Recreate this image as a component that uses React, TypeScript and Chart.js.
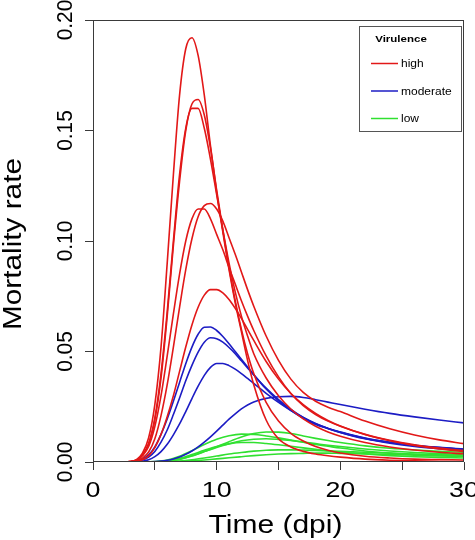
import React, { useEffect, useRef } from "react";
import { Chart, registerables } from "chart.js";

Chart.register(...registerables);

// time grids (days post infection)
const T_FAST = [1, 2, 3, 3.5, 4, 4.5, 5, 5.5, 6, 6.5, 7, 7.5, 8, 8.5, 9, 9.5, 10, 10.5, 11, 11.5, 12, 12.5, 13, 14, 15, 16, 17, 18, 19, 20, 22, 24, 26, 28, 30];
const T_SLOW = [1, 3, 4, 5, 6, 7, 8, 9, 10, 11, 12, 13, 14, 15, 16, 17, 18, 19, 20, 22, 24, 26, 28, 30];

// high virulence
const HIGH_1 = [0, 0, 0.0002, 0.001, 0.004, 0.011, 0.026, 0.052, 0.09, 0.13, 0.166, 0.187, 0.192, 0.184, 0.166, 0.143, 0.122, 0.104, 0.087, 0.072, 0.059, 0.046, 0.035, 0.019, 0.0105, 0.0068, 0.0048, 0.0036, 0.0028, 0.0022, 0.0013, 0.0008, 0.0005, 0.0003, 0.0002];
const HIGH_2 = [0, 0, 0.0002, 0.0008, 0.003, 0.008, 0.019, 0.038, 0.066, 0.098, 0.127, 0.15, 0.162, 0.164, 0.157, 0.142, 0.123, 0.105, 0.088, 0.073, 0.06, 0.049, 0.04, 0.027, 0.0185, 0.013, 0.0095, 0.007, 0.0053, 0.0041, 0.0026, 0.0018, 0.0013, 0.0011, 0.0009];
const HIGH_3 = [0, 0, 0.0002, 0.0009, 0.0033, 0.0085, 0.02, 0.04, 0.068, 0.1, 0.13, 0.151, 0.16, 0.16, 0.151, 0.137, 0.121, 0.105, 0.09, 0.077, 0.066, 0.057, 0.049, 0.038, 0.03, 0.024, 0.0195, 0.0162, 0.0136, 0.0117, 0.0088, 0.0068, 0.0054, 0.0044, 0.0037];
const HIGH_4 = [0, 0, 0.0001, 0.0005, 0.0018, 0.0045, 0.0105, 0.021, 0.035, 0.052, 0.07, 0.087, 0.101, 0.111, 0.116, 0.117, 0.1145, 0.109, 0.1015, 0.094, 0.086, 0.078, 0.0705, 0.057, 0.046, 0.0375, 0.0315, 0.0275, 0.0248, 0.0228, 0.0185, 0.015, 0.0122, 0.01, 0.0083];
const HIGH_5 = [0, 0, 0.0002, 0.0008, 0.0028, 0.007, 0.016, 0.03, 0.048, 0.067, 0.085, 0.1, 0.11, 0.1145, 0.1145, 0.11, 0.103, 0.096, 0.088, 0.0805, 0.073, 0.066, 0.0595, 0.048, 0.0385, 0.031, 0.0255, 0.0215, 0.0185, 0.0162, 0.0125, 0.0098, 0.0078, 0.0063, 0.0052];
const HIGH_6 = [0, 0, 0.0001, 0.0003, 0.001, 0.0028, 0.0065, 0.0125, 0.0205, 0.03, 0.041, 0.052, 0.062, 0.07, 0.0755, 0.078, 0.078, 0.0765, 0.0735, 0.0695, 0.065, 0.06, 0.055, 0.0455, 0.0375, 0.031, 0.026, 0.022, 0.0188, 0.0163, 0.0124, 0.0096, 0.0075, 0.0059, 0.0047];

// moderate virulence
const MOD_1 = [0, 0, 0.0001, 0.0004, 0.0013, 0.0032, 0.0068, 0.0125, 0.0195, 0.0275, 0.036, 0.0445, 0.052, 0.0578, 0.061, 0.0611, 0.0595, 0.0568, 0.0535, 0.05, 0.0465, 0.043, 0.0395, 0.033, 0.0277, 0.0234, 0.0198, 0.017, 0.0152, 0.0136, 0.0108, 0.0089, 0.0075, 0.0065, 0.0058];
const MOD_2 = [0, 0, 0.0001, 0.0003, 0.0009, 0.0022, 0.0048, 0.009, 0.0145, 0.0215, 0.029, 0.0368, 0.0437, 0.0497, 0.0542, 0.0562, 0.0558, 0.0542, 0.0518, 0.049, 0.0458, 0.0426, 0.0394, 0.0334, 0.0282, 0.0238, 0.0202, 0.0173, 0.0152, 0.0134, 0.0107, 0.0089, 0.0076, 0.0066, 0.0059];
const MOD_3 = [0, 0, 0, 0.0001, 0.0004, 0.001, 0.0024, 0.0047, 0.008, 0.0123, 0.0172, 0.0228, 0.0287, 0.0343, 0.0392, 0.0428, 0.0446, 0.0446, 0.0436, 0.042, 0.04, 0.0378, 0.0356, 0.0311, 0.027, 0.0233, 0.0201, 0.0174, 0.0152, 0.0134, 0.0105, 0.0085, 0.007, 0.006, 0.0052];
const MOD_4 = [0, 0, 0, 0, 0, 0.0001, 0.0002, 0.0004, 0.0008, 0.0014, 0.0023, 0.0035, 0.005, 0.0068, 0.009, 0.0114, 0.014, 0.0167, 0.0194, 0.0218, 0.024, 0.0258, 0.0272, 0.0288, 0.0295, 0.0297, 0.0292, 0.0282, 0.0271, 0.026, 0.0239, 0.022, 0.0204, 0.019, 0.0177];

// low virulence
const LOW_1 = [0, 0, 0, 0.0001, 0.0004, 0.0012, 0.0027, 0.0047, 0.0069, 0.0092, 0.0113, 0.0129, 0.0136, 0.0135, 0.0129, 0.0118, 0.0107, 0.0097, 0.0088, 0.0073, 0.0062, 0.0054, 0.0048, 0.0044];
const LOW_2 = [0, 0, 0, 0.0002, 0.0009, 0.0026, 0.0051, 0.0079, 0.0103, 0.0119, 0.0126, 0.0125, 0.0118, 0.0109, 0.0099, 0.0089, 0.0079, 0.0071, 0.0063, 0.005, 0.0041, 0.0034, 0.0029, 0.0025];
const LOW_3 = [0, 0, 0, 0.0001, 0.0004, 0.0013, 0.0028, 0.0047, 0.0066, 0.0083, 0.0096, 0.0103, 0.0105, 0.0102, 0.0097, 0.009, 0.0083, 0.0076, 0.007, 0.0059, 0.005, 0.0043, 0.0038, 0.0034];
const LOW_4 = [0, 0, 0, 0.0001, 0.0006, 0.0017, 0.0034, 0.0053, 0.007, 0.0082, 0.0088, 0.0088, 0.0084, 0.0078, 0.0071, 0.0064, 0.0057, 0.0051, 0.0045, 0.0036, 0.0029, 0.0024, 0.0021, 0.0018];
const LOW_5 = [0, 0, 0, 0, 0.0001, 0.0004, 0.001, 0.0018, 0.0027, 0.0036, 0.0043, 0.0049, 0.0053, 0.0055, 0.0055, 0.0054, 0.0052, 0.005, 0.0048, 0.0044, 0.004, 0.0036, 0.0033, 0.0031];
const LOW_6 = [0, 0, 0, 0, 0, 0.0002, 0.0005, 0.0009, 0.0014, 0.0019, 0.0024, 0.0029, 0.0033, 0.0036, 0.0038, 0.0039, 0.004, 0.004, 0.0039, 0.0037, 0.0034, 0.0031, 0.0028, 0.0026];

const X_TICK_VALUES = [0, 10, 20, 30];
const X_TICK_LABELS = ["0", "10", "20", "30"];
const Y_TICK_VALUES = [0, 0.05, 0.1, 0.15, 0.2];
const Y_TICK_LABELS = ["0.00", "0.05", "0.10", "0.15", "0.20"];
const LEGEND_TITLE = "Virulence";
const LEGEND_LABELS = ["high", "moderate", "low"];

const RED = "#e21818";
const BLUE = "#1c1cc4";
const GREEN = "#30e030";
const LEGEND_COLORS = [RED, BLUE, GREEN];

const FONT = "'Liberation Sans', Arial, Helvetica, sans-serif";

function drawText(
  ctx: CanvasRenderingContext2D,
  text: string,
  x: number,
  y: number,
  font: string,
  angle: number,
  stretch: number,
  align: CanvasTextAlign = "center"
) {
  ctx.save();
  ctx.translate(x, y);
  ctx.rotate(angle);
  ctx.scale(stretch, 1);
  ctx.font = font;
  ctx.textAlign = align;
  ctx.textBaseline = "alphabetic";
  ctx.fillStyle = "#000";
  ctx.fillText(text, 0, 0);
  ctx.restore();
}

const decorPlugin = {
  id: "decor",
  afterDatasetsDraw(chart: any) {
    const { ctx, chartArea } = chart;
    const { left, right, top, bottom } = chartArea;
    ctx.save();
    ctx.strokeStyle = "#3a3a3a";
    ctx.lineWidth = 1;
    ctx.strokeRect(Math.round(left) + 0.5, Math.round(top) + 0.5, Math.round(right - left) - 1, Math.round(bottom - top) - 1);
    ctx.restore();
  },
  afterDraw(chart: any) {
    const { ctx, chartArea, scales } = chart;
    const { left, right, top, bottom } = chartArea;
    const xs = scales.x;
    const ys = scales.y;

    // x tick labels
    X_TICK_VALUES.forEach((v, i) => {
      drawText(ctx, X_TICK_LABELS[i], xs.getPixelForValue(v), bottom + 35, `22px ${FONT}`, 0, 1.22);
    });
    // y tick labels (rotated)
    Y_TICK_VALUES.forEach((v, i) => {
      drawText(ctx, Y_TICK_LABELS[i], left - 21, ys.getPixelForValue(v), `22px ${FONT}`, -Math.PI / 2, 0.95);
    });
    // axis titles
    drawText(ctx, "Time (dpi)", (left + right) / 2 - 3, bottom + 71, `25px ${FONT}`, 0, 1.2);
    drawText(ctx, "Mortality rate", 21, (top + bottom) / 2 + 3, `25px ${FONT}`, -Math.PI / 2, 1.19);

    // legend box
    const bx = right - 105;
    const by = top + 6;
    const bw = 102;
    const bh = 105;
    ctx.save();
    ctx.fillStyle = "#fff";
    ctx.fillRect(bx, by, bw, bh);
    ctx.strokeStyle = "#555";
    ctx.lineWidth = 1;
    ctx.strokeRect(Math.round(bx) + 0.5, Math.round(by) + 0.5, bw, bh);
    ctx.restore();
    drawText(ctx, LEGEND_TITLE, bx + 42, by + 16, `bold 9.6px ${FONT}`, 0, 1.2);
    LEGEND_LABELS.forEach((lab, i) => {
      const ly = by + 37.5 + i * 27.5;
      ctx.save();
      ctx.strokeStyle = LEGEND_COLORS[i];
      ctx.lineWidth = 1.5;
      ctx.beginPath();
      ctx.moveTo(bx + 12, ly);
      ctx.lineTo(bx + 39, ly);
      ctx.stroke();
      ctx.restore();
      drawText(ctx, lab, bx + 42, ly + 3.5, `10px ${FONT}`, 0, 1.2, "left");
    });
  },
};

function series(ts: number[], vs: number[], color: string) {
  return {
    data: ts.map((t, i) => ({ x: t, y: vs[i] })),
    borderColor: color,
    borderWidth: 1.6,
    pointRadius: 0,
    fill: false,
    cubicInterpolationMode: "monotone" as const,
  };
}

export default function App() {
  const ref = useRef<HTMLCanvasElement | null>(null);
  useEffect(() => {
    if (!ref.current) return;
    const datasets = [
      series(T_FAST, HIGH_1, RED),
      series(T_FAST, HIGH_2, RED),
      series(T_FAST, HIGH_3, RED),
      series(T_FAST, HIGH_4, RED),
      series(T_FAST, HIGH_5, RED),
      series(T_FAST, HIGH_6, RED),
      series(T_FAST, MOD_1, BLUE),
      series(T_FAST, MOD_2, BLUE),
      series(T_FAST, MOD_3, BLUE),
      series(T_FAST, MOD_4, BLUE),
      series(T_SLOW, LOW_1, GREEN),
      series(T_SLOW, LOW_2, GREEN),
      series(T_SLOW, LOW_3, GREEN),
      series(T_SLOW, LOW_4, GREEN),
      series(T_SLOW, LOW_5, GREEN),
      series(T_SLOW, LOW_6, GREEN),
    ];
    const gridOpts = {
      drawOnChartArea: false,
      drawTicks: true,
      tickLength: 8,
      color: "#3a3a3a",
      lineWidth: 1,
    };
    const chart = new Chart(ref.current, {
      type: "line",
      data: { datasets },
      options: {
        animation: false,
        responsive: false,
        events: [],
        layout: { padding: { left: 0, right: 11, top: 20, bottom: 0 } },
        plugins: { legend: { display: false }, tooltip: { enabled: false }, title: { display: false } },
        scales: {
          x: {
            type: "linear",
            min: 0,
            max: 30,
            ticks: { stepSize: 5, display: false },
            grid: gridOpts,
            border: { display: false },
            afterFit: (s: any) => {
              s.height = 78;
            },
          },
          y: {
            type: "linear",
            min: 0,
            max: 0.2,
            ticks: { stepSize: 0.05, display: false },
            grid: gridOpts,
            border: { display: false },
            afterFit: (s: any) => {
              s.width = 93;
            },
          },
        },
      },
      plugins: [decorPlugin],
    } as any);
    return () => chart.destroy();
  }, []);
  return (
    <div style={{ position: "fixed", left: 0, top: 0, width: 475, height: 540, background: "#fff" }}>
      <canvas ref={ref} width={475} height={540} style={{ width: 475, height: 540, display: "block" }} />
    </div>
  );
}
